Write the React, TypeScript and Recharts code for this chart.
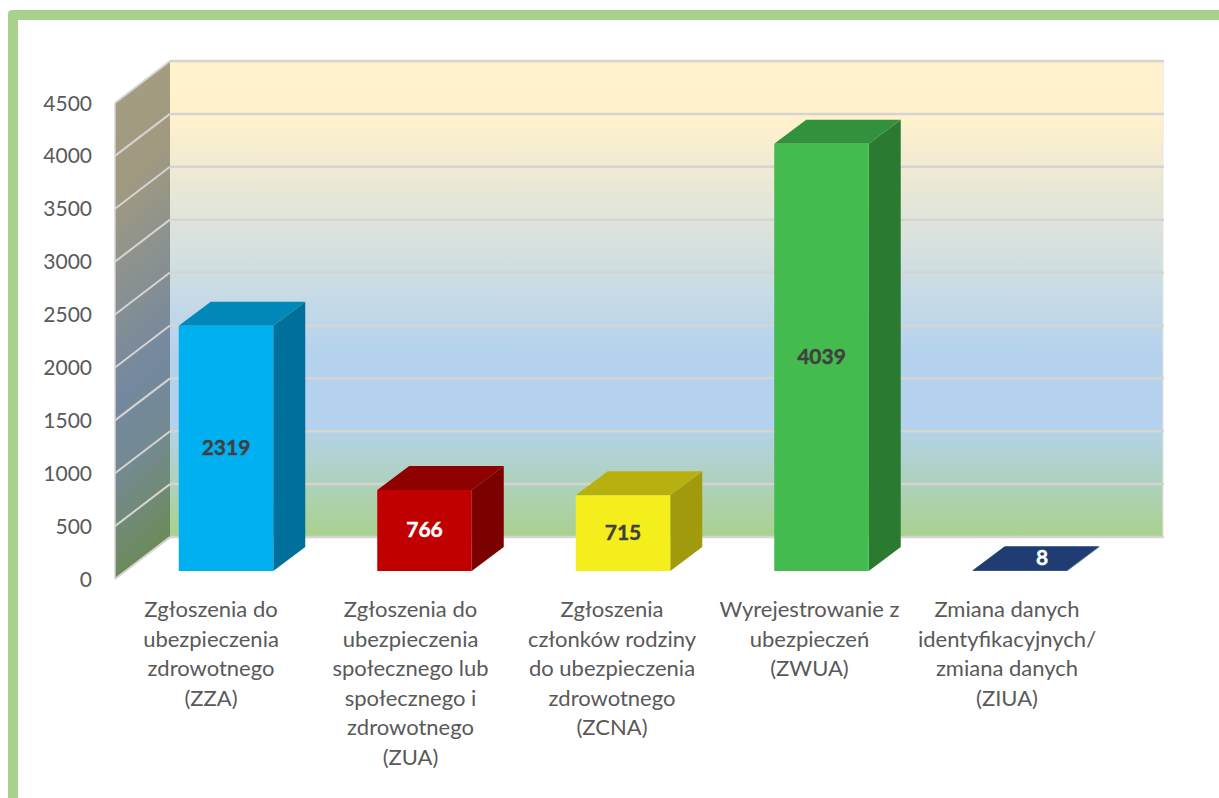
import { BarChart, Bar, XAxis, YAxis, LabelList, CartesianGrid } from 'recharts';

const categories = ['ZZA', 'ZUA', 'ZCNA', 'ZWUA', 'ZIUA'];
const values = [2319, 766, 715, 4039, 8];
const yTicks = [0, 500, 1000, 1500, 2000, 2500, 3000, 3500, 4000, 4500];

const categoryLines = [
  ['Zgłoszenia do', 'ubezpieczenia', 'zdrowotnego', '(ZZA)'],
  ['Zgłoszenia do', 'ubezpieczenia', 'społecznego lub', 'społecznego i', 'zdrowotnego', '(ZUA)'],
  ['Zgłoszenia', 'członków rodziny', 'do ubezpieczenia', 'zdrowotnego', '(ZCNA)'],
  ['Wyrejestrowanie z', 'ubezpieczeń', '(ZWUA)'],
  ['Zmiana danych', 'identyfikacyjnych/', 'zmiana danych', '(ZIUA)'],
];

const frontColors = ['#00b0f0', '#c00000', '#f4ef1c', '#43bb4f', '#1f3d73'];
const sideColors = ['#00709a', '#7b0000', '#a09a0c', '#2a7a32', '#1f3d73'];
const topColors = ['#0088b8', '#8f0000', '#b8b00e', '#31913c', '#1f3d73'];
const labelColors = ['#404040', '#ffffff', '#404040', '#404040', '#ffffff'];
const labelOffsets = [-15, -14, -11, -12, -13];

const FONT = 'Lato, sans-serif';
const GRID = '#d6d4d2';
const DEPTH_X = 32;
const DEPTH_Y = 24;

const Bar3D = (props: any) => {
  const { x, y, width, height, index } = props;
  const r = x + width;
  const b = y + height;
  return (
    <g>
      <polygon
        points={`${r},${y} ${r + DEPTH_X},${y - DEPTH_Y} ${r + DEPTH_X},${b - DEPTH_Y} ${r},${b}`}
        fill={sideColors[index]}
      />
      <polygon
        points={`${x},${y} ${x + DEPTH_X},${y - DEPTH_Y} ${r + DEPTH_X},${y - DEPTH_Y} ${r},${y}`}
        fill={topColors[index]}
      />
      <rect x={x} y={y} width={width} height={height} fill={frontColors[index]} />
    </g>
  );
};

const BarLabel = (props: any) => {
  const { x, y, width, height, value, index } = props;
  const flat = height < 10;
  return (
    <text
      x={x + width / 2 + (flat ? 22 : 0)}
      y={flat ? y - 5 : y + height / 2 + 7}
      textAnchor="middle"
      fontFamily={FONT}
      fontWeight={700}
      fontSize={21}
      stroke={labelColors[index]}
      strokeWidth={0.4}
      fill={labelColors[index]}
    >
      {value}
    </text>
  );
};

// gridline on the back wall plus its diagonal on the side wall
const GridLine = (props: any) => {
  const { y1 } = props;
  return (
    <g>
      <line x1={115} y1={y1 + 8} x2={170} y2={y1 - 34} stroke={GRID} strokeWidth={2} />
      <line x1={170} y1={y1 - 34} x2={1164} y2={y1 - 34} stroke={GRID} strokeWidth={2.5} />
    </g>
  );
};

const YTick = (props: any) => {
  const { y, payload } = props;
  return (
    <text x={92} y={y + 15.5} textAnchor="end" fontFamily={FONT} fontSize={21} fill="#595959">
      {payload.value}
    </text>
  );
};

const XTick = (props: any) => {
  const { x, index } = props;
  return (
    <text textAnchor="middle" fontFamily={FONT} fontSize={22} fill="#595959">
      {categoryLines[index].map((line, i) => (
        <tspan key={i} x={x + labelOffsets[index]} y={617 + i * 29.5}>
          {line}
        </tspan>
      ))}
    </text>
  );
};

export default function App() {
  const data = categories.map((name, i) => ({ name, value: values[i] }));

  return (
    <div style={{ position: 'absolute', left: 0, top: 0, width: 1219, height: 798, overflow: 'hidden', background: '#fff' }}>
      <div
        style={{
          position: 'absolute',
          left: 8,
          top: 10,
          width: 1300,
          height: 900,
          boxSizing: 'border-box',
          border: '10px solid #a9d18e',
          borderRadius: 4,
        }}
      />
      {/* chart walls sit behind the transparent chart so the grid can draw over them */}
      <svg width={1219} height={798} style={{ position: 'absolute', left: 0, top: 0 }}>
        <defs>
          <linearGradient id="backWall" x1="0" y1="0" x2="0" y2="1">
            <stop offset="0" stopColor="#fff2cc" />
            <stop offset="0.12" stopColor="#fff1cc" />
            <stop offset="0.62" stopColor="#b4d2ee" />
            <stop offset="0.76" stopColor="#b4d2ee" />
            <stop offset="1" stopColor="#a9d18e" />
          </linearGradient>
          <linearGradient id="sideWall" x1="0.45" y1="0" x2="0.55" y2="1">
            <stop offset="0" stopColor="#a59c80" />
            <stop offset="0.2" stopColor="#a19a80" />
            <stop offset="0.6" stopColor="#74889f" />
            <stop offset="0.75" stopColor="#748a92" />
            <stop offset="1" stopColor="#6b8a50" />
          </linearGradient>
        </defs>
        <polygon points="115,103 170,61 170,538 115,579" fill="url(#sideWall)" />
        <rect x={170} y={61} width={993} height={477} fill="url(#backWall)" />
        <line x1={1163} y1={61} x2={1163} y2={538} stroke="#e6e4dc" strokeWidth={1} />
        <line x1={115} y1={103} x2={115} y2={579} stroke={GRID} strokeWidth={1.5} />
      </svg>
      <div style={{ position: 'absolute', left: 0, top: 0 }}>
        <BarChart
          width={1219}
          height={798}
          data={data}
          margin={{ top: 95, bottom: 127, left: 26.75, right: 99.75 }}
          barSize={94.5}
        >
          <XAxis dataKey="name" axisLine={false} tickLine={false} interval={0} height={100} tick={<XTick />} />
          <YAxis
            domain={[0, 4500]}
            ticks={yTicks}
            width={100}
            axisLine={false}
            tickLine={false}
            interval={0}
            tick={<YTick />}
          />
          <CartesianGrid vertical={false} horizontal={<GridLine />} />
          <Bar dataKey="value" isAnimationActive={false} shape={<Bar3D />}>
            <LabelList dataKey="value" content={<BarLabel />} />
          </Bar>
        </BarChart>
      </div>
    </div>
  );
}
